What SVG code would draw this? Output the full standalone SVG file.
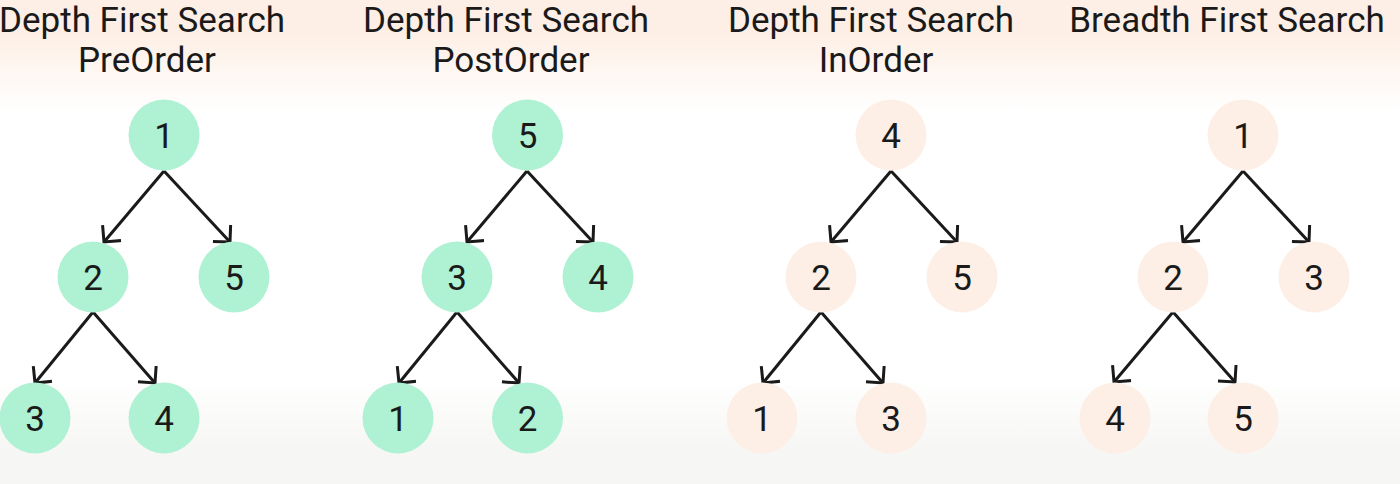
<svg xmlns="http://www.w3.org/2000/svg" width="1400" height="484" viewBox="0 0 1400 484">
  <defs>
    <linearGradient id="bg" x1="0" y1="0" x2="0" y2="484" gradientUnits="userSpaceOnUse">
      <stop offset="0" stop-color="#fdefe5"/>
      <stop offset="0.07" stop-color="#fdefe5"/>
      <stop offset="0.23" stop-color="#ffffff"/>
      <stop offset="0.78" stop-color="#ffffff"/>
      <stop offset="0.93" stop-color="#f6f6f4"/>
      <stop offset="1" stop-color="#f6f6f4"/>
    </linearGradient>
    <marker id="arr" viewBox="-14 -14 16 28" refX="0" refY="0" markerWidth="16" markerHeight="28" markerUnits="userSpaceOnUse" orient="auto">
      <path d="M -11 -11 L 0 0 L -11 11" fill="none" stroke="#1a1a1a" stroke-width="3" stroke-linecap="square"/>
    </marker>
    <style>
      .title { font-family: Roboto, "Liberation Sans", sans-serif; font-size: 35px; fill: #1a1a1a; text-anchor: middle; }
      .lbl { font-family: Roboto, "Liberation Sans", sans-serif; font-size: 35px; fill: #1a1a1a; text-anchor: middle; }
      .g { fill: #aef1d3; }
      .p { fill: #fdefe5; }
      .edge { stroke: #1a1a1a; stroke-width: 3; fill: none; marker-end: url(#arr); }
    </style>
  </defs>
  <rect x="0" y="0" width="1400" height="484" fill="url(#bg)"/>

  <g id="titles">
    <text class="title" x="142" y="32">Depth First Search</text>
    <text class="title" x="147" y="72">PreOrder</text>
    <text class="title" x="506" y="32">Depth First Search</text>
    <text class="title" x="511" y="72">PostOrder</text>
    <text class="title" x="871" y="32">Depth First Search</text>
    <text class="title" x="876" y="72">InOrder</text>
    <text class="title" x="1227" y="32">Breadth First Search</text>
  </g>

  <g id="connectors">
    <!-- tree 1 -->
    <line class="edge" x1="164" y1="171" x2="104" y2="242"/>
    <line class="edge" x1="164" y1="171" x2="230" y2="242"/>
    <line class="edge" x1="93" y1="312" x2="35" y2="383"/>
    <line class="edge" x1="93" y1="312" x2="155" y2="383"/>
    <!-- tree 2 -->
    <line class="edge" x1="527" y1="171" x2="467" y2="242"/>
    <line class="edge" x1="527" y1="171" x2="593" y2="242"/>
    <line class="edge" x1="457" y1="312" x2="399" y2="383"/>
    <line class="edge" x1="457" y1="312" x2="519" y2="383"/>
    <!-- tree 3 -->
    <line class="edge" x1="891" y1="171" x2="831" y2="242"/>
    <line class="edge" x1="891" y1="171" x2="957" y2="242"/>
    <line class="edge" x1="821" y1="312" x2="763" y2="383"/>
    <line class="edge" x1="821" y1="312" x2="883" y2="383"/>
    <!-- tree 4 -->
    <line class="edge" x1="1243" y1="171" x2="1183" y2="242"/>
    <line class="edge" x1="1243" y1="171" x2="1309" y2="242"/>
    <line class="edge" x1="1173" y1="312" x2="1114" y2="382"/>
    <line class="edge" x1="1173" y1="312" x2="1235" y2="382"/>
  </g>

  <!-- tree 1: PreOrder -->
  <g id="t1-n1"><circle class="g" cx="164" cy="135" r="35.5"/><text class="lbl" x="164" y="147.5">1</text></g>
  <g id="t1-n2"><circle class="g" cx="93" cy="277" r="35.5"/><text class="lbl" x="93" y="289.5">2</text></g>
  <g id="t1-n5"><circle class="g" cx="234" cy="277" r="35.5"/><text class="lbl" x="234" y="289.5">5</text></g>
  <g id="t1-n3"><circle class="g" cx="35" cy="418" r="35.5"/><text class="lbl" x="35" y="430.5">3</text></g>
  <g id="t1-n4"><circle class="g" cx="164" cy="418" r="35.5"/><text class="lbl" x="164" y="430.5">4</text></g>

  <!-- tree 2: PostOrder -->
  <g id="t2-n5"><circle class="g" cx="527.5" cy="135" r="35.5"/><text class="lbl" x="527.5" y="147.5">5</text></g>
  <g id="t2-n3"><circle class="g" cx="457" cy="277" r="35.5"/><text class="lbl" x="457" y="289.5">3</text></g>
  <g id="t2-n4"><circle class="g" cx="598" cy="277" r="35.5"/><text class="lbl" x="598" y="289.5">4</text></g>
  <g id="t2-n1"><circle class="g" cx="398" cy="418" r="35.5"/><text class="lbl" x="398" y="430.5">1</text></g>
  <g id="t2-n2"><circle class="g" cx="527.5" cy="418" r="35.5"/><text class="lbl" x="527.5" y="430.5">2</text></g>

  <!-- tree 3: InOrder -->
  <g id="t3-n4"><circle class="p" cx="891" cy="135" r="35.5"/><text class="lbl" x="891" y="147.5">4</text></g>
  <g id="t3-n2"><circle class="p" cx="821" cy="277" r="35.5"/><text class="lbl" x="821" y="289.5">2</text></g>
  <g id="t3-n5"><circle class="p" cx="962" cy="277" r="35.5"/><text class="lbl" x="962" y="289.5">5</text></g>
  <g id="t3-n1"><circle class="p" cx="762" cy="418" r="35.5"/><text class="lbl" x="762" y="430.5">1</text></g>
  <g id="t3-n3"><circle class="p" cx="891" cy="418" r="35.5"/><text class="lbl" x="891" y="430.5">3</text></g>

  <!-- tree 4: BFS -->
  <g id="t4-n1"><circle class="p" cx="1243" cy="135" r="35.5"/><text class="lbl" x="1243" y="147.5">1</text></g>
  <g id="t4-n2"><circle class="p" cx="1173" cy="277" r="35.5"/><text class="lbl" x="1173" y="289.5">2</text></g>
  <g id="t4-n3"><circle class="p" cx="1314" cy="277" r="35.5"/><text class="lbl" x="1314" y="289.5">3</text></g>
  <g id="t4-n4"><circle class="p" cx="1115" cy="418" r="35.5"/><text class="lbl" x="1115" y="430.5">4</text></g>
  <g id="t4-n5"><circle class="p" cx="1243" cy="418" r="35.5"/><text class="lbl" x="1243" y="430.5">5</text></g>
</svg>
